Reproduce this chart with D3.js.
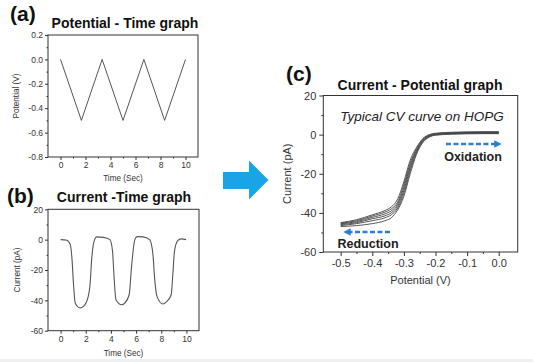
<!DOCTYPE html>
<html>
<head>
<meta charset="utf-8">
<script src="https://cdn.jsdelivr.net/npm/d3@7"></script>
<style>
  body { margin: 0; background: #fff; }
  svg { display: block; font-family: "Liberation Sans", Arial, sans-serif; }
</style>
</head>
<body>
<div id="chart"></div>
<script>
// (a) applied potential, triangle sweep
const potTime = [0, 1.67, 3.33, 5, 6.67, 8.33, 10];
const potValue = [0, -0.5, 0, -0.5, 0, -0.5, 0];

// (b) current response over time
const curTime = [0, 0.5, 0.77, 0.9, 1.03, 1.16, 1.55, 1.82, 2.2, 2.34, 2.48, 2.66, 2.87, 3.4, 3.92,
  4.13, 4.24, 4.4, 4.85, 5.1, 5.45, 5.63, 5.9, 6.08, 6.55, 7.08, 7.34, 7.47, 7.66, 8.13, 8.4,
  8.79, 8.92, 9.05, 9.31, 9.58, 9.97];
const curValue = [0, -0.4, -3.3, -12, -29.7, -41.8, -45, -44, -37.4, -29.7, -12, -1.1, 1.8, 1.5, 0,
  -7.7, -23, -39.6, -42.9, -41.8, -36.3, -18.7, 0, 2, 1.8, 0, -9.9, -25, -37.4, -42.4, -41,
  -36.3, -23, -7.7, -0.7, 0.5, 0];

// (c) CV cycles, current vs potential
const cvPotential = [-0.5, -0.45, -0.4, -0.36, -0.34, -0.32, -0.30, -0.28, -0.26, -0.24, -0.22, -0.20, -0.15, -0.10, -0.05, 0.0];
const cvCycles = [
  [-47, -46.5, -45.5, -44, -42.5, -38.5, -31.5, -20, -10, -4, -1.3, -0.3, 0.2, 0.4, 0.5, 0.5],
  [-46.5, -45.5, -44, -42.5, -41, -37.5, -30, -18.5, -9.3, -3.6, -1.1, -0.1, 0.4, 0.6, 0.7, 0.7],
  [-46, -45, -43, -41.5, -40, -36.5, -28.5, -17, -8.6, -3.2, -0.8, 0.1, 0.6, 0.8, 0.9, 0.9],
  [-45.6, -44.5, -42.3, -40.5, -39, -35.5, -27, -15.8, -7.9, -2.8, -0.5, 0.3, 0.8, 1.0, 1.1, 1.1],
  [-45.3, -44, -41.6, -39.6, -38, -34.5, -25.5, -14.5, -7.2, -2.4, -0.3, 0.5, 1.0, 1.2, 1.3, 1.3],
  [-45, -43.5, -41, -38.8, -37, -33, -24, -13, -6.5, -2, 0, 0.7, 1.2, 1.4, 1.5, 1.5]
];

const timeTicks = [0, 2, 4, 6, 8, 10];
const potTicks = [0.2, 0.0, -0.2, -0.4, -0.6, -0.8];
const curTicks = [20, 0, -20, -40, -60];
const cvXTicks = [-0.5, -0.4, -0.3, -0.2, -0.1, 0.0];

const W = 533, H = 362;
const svg = d3.select('#chart')
  .append('svg')
  .attr('width', W)
  .attr('height', H);

svg.append('rect').attr('x', 0).attr('y', 359).attr('width', W).attr('height', 3).attr('fill', '#eef1f3');

function frame(x, y, opt) {
  const [x0, x1] = x.range();
  const [y0, y1] = y.range();
  const g = svg.append('g');
  g.append('rect')
    .attr('x', x0).attr('y', y1)
    .attr('width', x1 - x0).attr('height', y0 - y1)
    .attr('fill', 'none').attr('stroke', '#333').attr('stroke-width', 1);

  const xa = g.append('g')
    .attr('transform', `translate(0,${y0})`)
    .call(d3.axisBottom(x).tickValues(opt.xTicks).tickSize(opt.tick).tickPadding(opt.pad).tickFormat(opt.xFmt));
  xa.append('g').call(d3.axisBottom(x).tickValues(opt.xMinor).tickSize(opt.tick / 2).tickFormat(''));
  const ya = g.append('g')
    .attr('transform', `translate(${x0},0)`)
    .call(d3.axisLeft(y).tickValues(opt.yTicks).tickSize(opt.tick).tickPadding(opt.pad).tickFormat(opt.yFmt));
  ya.append('g').call(d3.axisLeft(y).tickValues(opt.yMinor).tickSize(opt.tick / 2).tickFormat(''));

  g.selectAll('.domain').remove();
  g.selectAll('.tick line').attr('stroke', '#333');
  g.selectAll('.tick text').attr('fill', '#333').style('font-size', opt.fs + 'px');

  g.append('text')
    .attr('x', (x0 + x1) / 2).attr('y', y0 + opt.xLabDy)
    .attr('text-anchor', 'middle').attr('fill', '#333')
    .style('font-size', opt.ls + 'px')
    .text(opt.xLabel);
  g.append('text')
    .attr('transform', `translate(${x0 - opt.yLabDx},${(y0 + y1) / 2}) rotate(-90)`)
    .attr('text-anchor', 'middle').attr('fill', '#333')
    .style('font-size', opt.ls + 'px')
    .text(opt.yLabel);
  return g;
}

const tFmt = d3.format('d');
const vFmt = d => d3.format('.1f')(d).replace('−', '-');
const iFmt = d => String(d);

// ---------- (a) ----------
const xA = d3.scaleLinear().domain([-1, 11]).range([48, 198]);
const yA = d3.scaleLinear().domain([-0.8, 0.2]).range([157, 35]);
frame(xA, yA, {
  xTicks: timeTicks, xMinor: [1, 3, 5, 7, 9], yTicks: potTicks, yMinor: [0.1, -0.1, -0.3, -0.5, -0.7],
  tick: 3, pad: 2, fs: 8.5, ls: 8.2, xFmt: tFmt, yFmt: vFmt,
  xLabel: 'Time (Sec)', yLabel: 'Potential (V)', xLabDy: 24, yLabDx: 29
});
svg.append('path')
  .datum(potTime.map((t, i) => [t, potValue[i]]))
  .attr('fill', 'none').attr('stroke', '#555').attr('stroke-width', 1)
  .attr('d', d3.line().x(d => xA(d[0])).y(d => yA(d[1])));

// ---------- (b) ----------
const xB = d3.scaleLinear().domain([-1, 11]).range([48, 199]);
const yB = d3.scaleLinear().domain([-60, 20]).range([330.7, 209.3]);
frame(xB, yB, {
  xTicks: timeTicks, xMinor: [1, 3, 5, 7, 9], yTicks: curTicks, yMinor: [10, -10, -30, -50],
  tick: 3, pad: 2, fs: 8.5, ls: 8.2, xFmt: tFmt, yFmt: iFmt,
  xLabel: 'Time (Sec)', yLabel: 'Current (pA)', xLabDy: 25, yLabDx: 28
});
svg.append('path')
  .datum(curTime.map((t, i) => [t, curValue[i]]))
  .attr('fill', 'none').attr('stroke', '#555').attr('stroke-width', 1.1)
  .attr('d', d3.line().curve(d3.curveMonotoneX).x(d => xB(d[0])).y(d => yB(d[1])));

// ---------- (c) ----------
const xC = d3.scaleLinear().domain([-0.555, 0.06]).range([323.3, 517.7]);
const yC = d3.scaleLinear().domain([-60, 20]).range([252, 95.5]);
frame(xC, yC, {
  xTicks: cvXTicks, xMinor: [-0.45, -0.35, -0.25, -0.15, -0.05], yTicks: curTicks, yMinor: [10, -10, -30, -50],
  tick: 4, pad: 3, fs: 11, ls: 11, xFmt: vFmt, yFmt: iFmt,
  xLabel: 'Potential (V)', yLabel: 'Current (pA)', xLabDy: 32, yLabDx: 32
});
const cvLine = d3.line().curve(d3.curveMonotoneX).x(d => xC(d[0])).y(d => yC(d[1]));
svg.append('g').selectAll('path')
  .data(cvCycles)
  .join('path')
  .attr('fill', 'none').attr('stroke', '#444').attr('stroke-width', 0.9)
  .attr('d', c => cvLine(cvPotential.map((e, i) => [e, c[i]])));

// ---------- labels ----------
const labels = [
  { t: '(a)', x: 10, y: 21, s: 21 },
  { t: '(b)', x: 7, y: 203, s: 21 },
  { t: '(c)', x: 286, y: 81, s: 21 }
];
svg.selectAll('.plabel').data(labels).join('text')
  .attr('x', d => d.x).attr('y', d => d.y)
  .attr('fill', '#111').style('font-size', d => d.s + 'px').style('font-weight', 'bold')
  .text(d => d.t);

const titles = [
  { t: 'Potential - Time graph', x: 125, y: 28, s: 14 },
  { t: 'Current -Time graph', x: 124, y: 202, s: 14 },
  { t: 'Current - Potential graph', x: 420, y: 90, s: 14 }
];
svg.selectAll('.title').data(titles).join('text')
  .attr('x', d => d.x).attr('y', d => d.y)
  .attr('text-anchor', 'middle')
  .attr('fill', '#111').style('font-size', d => d.s + 'px').style('font-weight', 'bold')
  .text(d => d.t);

svg.append('text')
  .attr('x', 422).attr('y', 121).attr('text-anchor', 'middle')
  .attr('fill', '#222').style('font-size', '13.5px').style('font-style', 'italic')
  .text('Typical CV curve on HOPG');

svg.append('text')
  .attr('x', 473).attr('y', 161).attr('text-anchor', 'middle')
  .attr('fill', '#222').style('font-size', '12.5px').style('font-weight', 'bold')
  .text('Oxidation');
svg.append('text')
  .attr('x', 368).attr('y', 248).attr('text-anchor', 'middle')
  .attr('fill', '#222').style('font-size', '12.5px').style('font-weight', 'bold')
  .text('Reduction');

// dashed direction arrows
const blue = '#2a7fd0';
const defs = svg.append('defs');
defs.append('marker')
  .attr('id', 'ah').attr('viewBox', '0 0 10 10').attr('refX', 5).attr('refY', 5)
  .attr('markerWidth', 3).attr('markerHeight', 3).attr('orient', 'auto-start-reverse')
  .append('path').attr('d', 'M0,0 L10,5 L0,10 z').attr('fill', blue);

svg.append('line')
  .attr('x1', 446).attr('y1', 144).attr('x2', 498).attr('y2', 144)
  .attr('stroke', blue).attr('stroke-width', 2.5).attr('stroke-dasharray', '5,2.5')
  .attr('marker-end', 'url(#ah)');
svg.append('line')
  .attr('x1', 390).attr('y1', 232).attr('x2', 347).attr('y2', 232)
  .attr('stroke', blue).attr('stroke-width', 2.5).attr('stroke-dasharray', '5,2.5')
  .attr('marker-end', 'url(#ah)');

// big block arrow between panels
svg.append('path')
  .attr('d', 'M223,172 L249,172 L249,160.5 L268.5,180 L249,199.5 L249,189 L223,189 Z')
  .attr('fill', '#1aa3e6');
</script>
</body>
</html>
